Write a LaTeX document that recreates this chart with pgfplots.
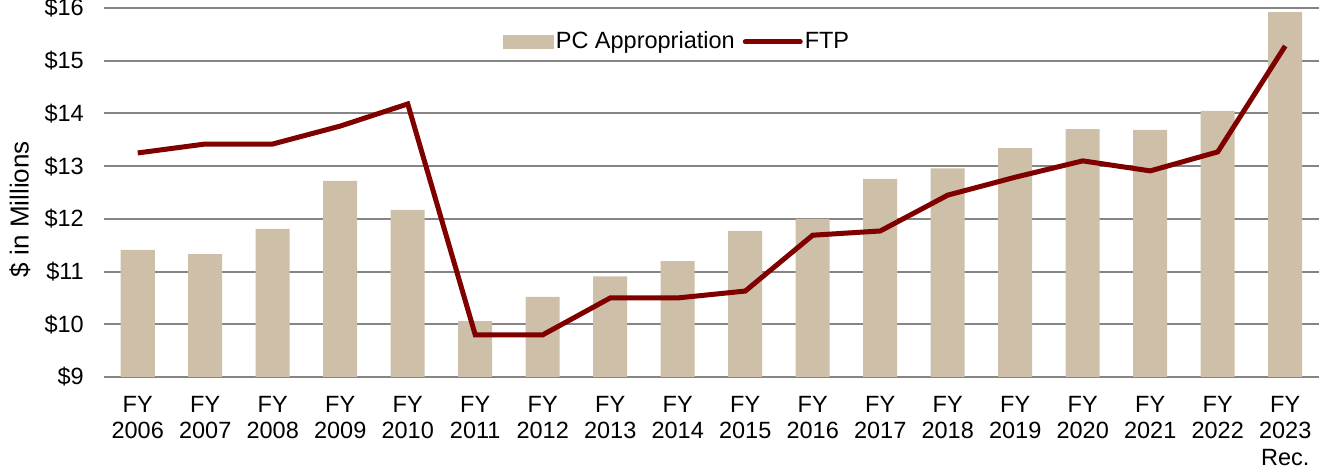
\documentclass[border=0pt]{standalone}
\usepackage{fontspec}
\setmainfont{Liberation Sans}
\usepackage{pgfplots}
\pgfplotsset{compat=1.18}
\definecolor{tanbar}{HTML}{CDBFA8}
\definecolor{ftpred}{HTML}{800000}
\definecolor{gridgray}{HTML}{858585}

\begin{document}
\fontsize{24bp}{25bp}\selectfont
\begin{tikzpicture}
\path[use as bounding box] (0,0) rectangle (1336bp,469bp);
\begin{axis}[
  at={(104bp,92bp)}, anchor=south west,
  scale only axis, width=1215bp, height=369bp,
  xmin=-0.5, xmax=17.5, ymin=9, ymax=16,
  xtick={0,...,17},
  xticklabels={FY\\2006,FY\\2007,FY\\2008,FY\\2009,FY\\2010,FY\\2011,FY\\2012,FY\\2013,FY\\2014,FY\\2015,FY\\2016,FY\\2017,FY\\2018,FY\\2019,FY\\2020,FY\\2021,FY\\2022,FY\\2023\\Rec.},
  xticklabel style={align=center, font=\fontsize{23.5bp}{26.5bp}\selectfont, yshift=-11bp},
  ytick={9,...,16},
  yticklabel={\$\pgfmathprintnumber{\tick}},
  yticklabel style={font=\fontsize{23.5bp}{25bp}\selectfont, xshift=-12bp},
  /pgf/number format/assume math mode=true,
  ylabel={\$ in Millions},
  ylabel style={font=\fontsize{26bp}{28bp}\selectfont, at={(ticklabel cs:0.455)}, yshift=-2bp},
  axis line style={draw=none},
  tick style={draw=none},
  ymajorgrids,
  major grid style={gridgray, line width=2bp},
  legend columns=2,
  legend style={draw=none, fill=none, at={(0.4716,0.908)}, anchor=center,
    font=\fontsize{23.5bp}{25bp}\selectfont,
    /tikz/every even column/.append style={column sep=6bp}},
  clip=true,
]
\addplot[ybar, bar width=34bp, fill=tanbar, draw=none,
  legend image code/.code={\fill[tanbar] (0bp,-7bp) rectangle (51bp,7bp);}]
coordinates {
(0,11.41) (1,11.33) (2,11.81) (3,12.72) (4,12.17) (5,10.06) (6,10.52) (7,10.91) (8,11.20)
(9,11.77) (10,12.00) (11,12.76) (12,12.96) (13,13.34) (14,13.70) (15,13.69) (16,14.05) (17,15.92)
};
\addlegendentry{PC Appropriation}
\addplot[ftpred, line width=5bp, sharp plot, mark=none,
  legend image code/.code={\draw[ftpred, line width=5bp, line cap=round] (0bp,0bp) -- (55bp,0bp);}]
coordinates {
(0,13.25) (1,13.42) (2,13.42) (3,13.76) (4,14.18) (5,9.80) (6,9.80) (7,10.50) (8,10.50)
(9,10.63) (10,11.69) (11,11.77) (12,12.45) (13,12.79) (14,13.10) (15,12.91) (16,13.27) (17,15.28)
};
\addlegendentry{FTP}
\end{axis}
\end{tikzpicture}
\end{document}
